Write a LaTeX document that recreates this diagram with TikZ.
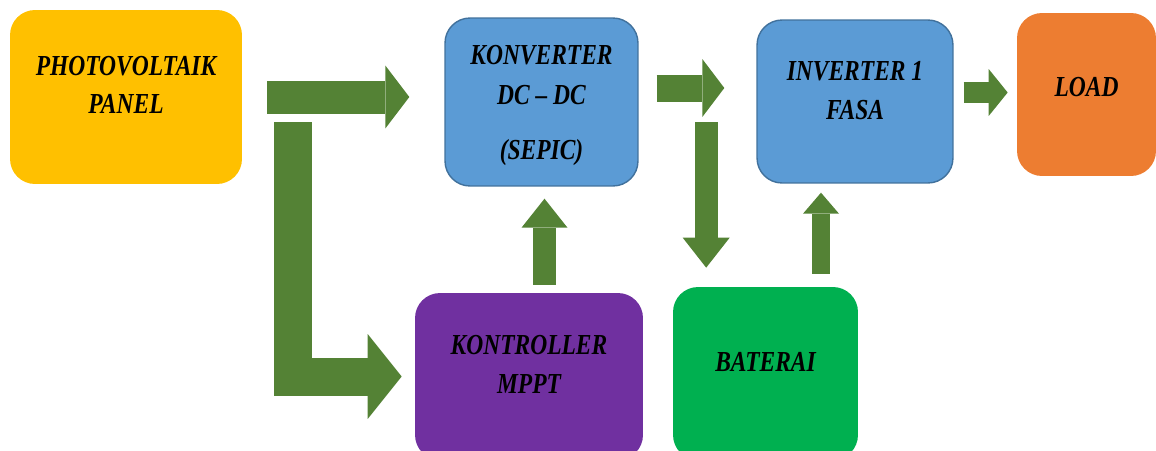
\documentclass[tikz,border=0pt]{standalone}
\usepackage{fontspec}
\setmainfont{Liberation Serif}[BoldItalicFont={Liberation Serif Bold Italic}, FakeStretch=0.81]
\usetikzlibrary{arrows.meta,calc}
\definecolor{pvyellow}{HTML}{FFC000}
\definecolor{convblue}{HTML}{5B9BD5}
\definecolor{convborder}{HTML}{41719C}
\definecolor{loadorange}{HTML}{ED7D31}
\definecolor{mpptpurple}{HTML}{7030A0}
\definecolor{batgreen}{HTML}{00B050}
\definecolor{flowgreen}{HTML}{548235}

\begin{document}
\begin{tikzpicture}[x=0.02cm,y=-0.02cm,
    block/.style={rounded corners=0.5cm, align=center, inner sep=0pt, font=\bfseries\itshape\fontsize{16.5}{22}\selectfont},
    flow/.style n args={3}{draw=flowgreen, line width=#1, -{Triangle[length=#2, width=#3, line width=0pt]}}]
    \useasboundingbox (0,0) rectangle (1156,450);

    \node[block, fill=pvyellow, minimum width=4.64cm, minimum height=3.48cm, text depth=0.48cm] (pv) at (126,97) {PHOTOVOLTAIK\\PANEL};
    \node[block, fill=convblue, draw=convborder, thick, minimum width=3.86cm, minimum height=3.36cm, text depth=0cm] (conv) at (541.5,102) {KONVERTER\\[1pt]DC -- DC\\[9pt](SEPIC)};
    \node[block, fill=convblue, draw=convborder, thick, minimum width=3.92cm, minimum height=3.26cm, text depth=0.44cm] (inv) at (855,101.5) {INVERTER 1\\FASA};
    \node[block, fill=loadorange, minimum width=2.78cm, minimum height=3.26cm, text depth=0.32cm] (load) at (1086.5,94.5) {LOAD};
    \node[block, fill=mpptpurple, minimum width=4.56cm, minimum height=3.34cm, text depth=0.48cm] (mppt) at (529,376.5) {KONTROLLER\\MPPT};
    \node[block, fill=batgreen, minimum width=3.70cm, minimum height=3.46cm, text depth=0.48cm] (bat) at (765.5,373.5) {BATERAI};

    \coordinate (pvsplit) at ($(pv.east)+(50.5,25)$);
    \coordinate (mpptout) at ($(mppt.north)+(15.5,0)$);
    \coordinate (convout) at ($(conv.east)+(0,-14)$);
    \coordinate (batin) at ($(conv.east)+(67.5,20)$);
    \coordinate (batout) at ($(bat.north)+(55.5,0)$);
    \coordinate (invout) at ($(inv.east)+(0,-9)$);

    \draw[flow={0.66cm}{0.48cm}{1.26cm}, shorten <=0.5cm, shorten >=0.7cm] (pv.east) -- (pv.east -| conv.west);
    \draw[flow={0.76cm}{0.68cm}{1.7cm}, line join=miter, shorten >=0.26cm] (pvsplit) |- (mppt.west);
    \draw[flow={0.46cm}{0.58cm}{0.92cm}, shorten <=0.16cm, shorten >=0.24cm] (mpptout) -- (mpptout |- conv.south);
    \draw[flow={0.54cm}{0.44cm}{1.16cm}, shorten <=0.36cm, shorten >=0.64cm] (convout) -- (convout -| inv.west);
    \draw[flow={0.46cm}{0.6cm}{0.94cm}, shorten >=0.38cm] (batin) -- (batin |- bat.north);
    \draw[flow={0.36cm}{0.42cm}{0.72cm}, shorten <=0.26cm, shorten >=0.18cm] (batout) -- (batout |- inv.south);
    \draw[flow={0.42cm}{0.38cm}{0.94cm}, shorten <=0.2cm, shorten >=0.18cm] (invout) -- (invout -| load.west);
\end{tikzpicture}
\end{document}
